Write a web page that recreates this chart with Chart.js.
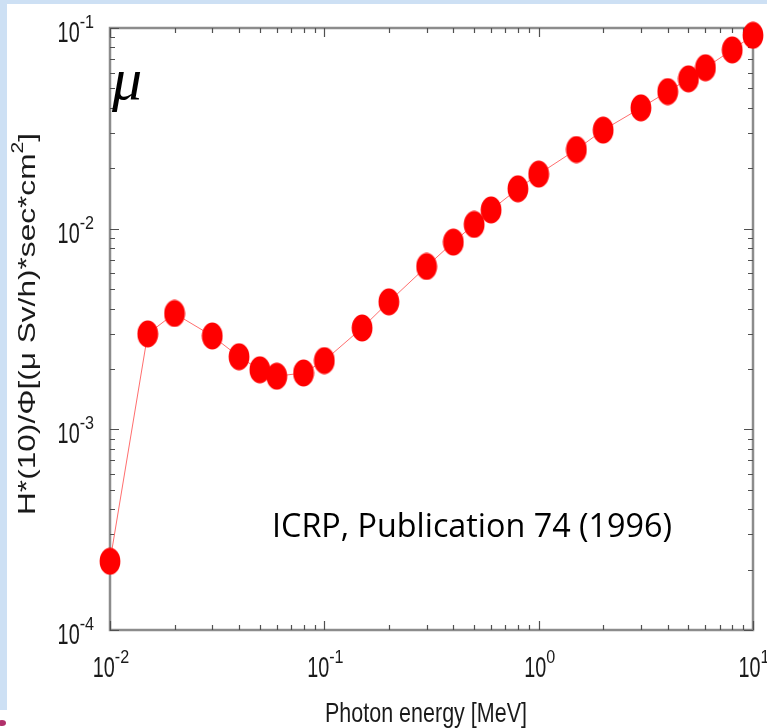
<!DOCTYPE html>
<html>
<head>
<meta charset="utf-8">
<script src="https://cdn.jsdelivr.net/npm/chart.js@4.4.1/dist/chart.umd.min.js"></script>
<style>
    html, body { margin: 0; padding: 0; background: #fff; }
    canvas { display: block; }
</style>
</head>
<body>
<canvas id="chart" width="767" height="728"></canvas>
<script>
// ICRP 74, H*(10)/Phi for photons
const energies = [0.01, 0.015, 0.02, 0.03, 0.04, 0.05, 0.06, 0.08, 0.1, 0.15, 0.2, 0.3, 0.4, 0.5, 0.6, 0.8, 1, 1.5, 2, 3, 4, 5, 6, 8, 10]
const doses = [2.2e-4, 2.99e-3, 3.78e-3, 2.92e-3, 2.3e-3, 1.98e-3, 1.84e-3, 1.91e-3, 2.2e-3, 3.2e-3, 4.32e-3, 6.48e-3, 8.57e-3, 1.05e-2, 1.24e-2, 1.58e-2, 1.87e-2, 2.48e-2, 3.1e-2, 4.0e-2, 4.82e-2, 5.58e-2, 6.34e-2, 7.78e-2, 9.2e-2]
const xExps = [-2, -1, 0, 1]
const yExps = [-4, -3, -2, -1]
const xTitle = 'Photon energy [MeV]'
const yTitle = ['H*(10)/\u03a6[(\u03bc Sv/h)*sec*cm', '2', ']']
const note = 'ICRP, Publication 74 (1996)'

const SANS = '"Liberation Sans", Arial, sans-serif'

// ellipse marker
const marker = document.createElement('canvas')
marker.width = 22
marker.height = 28
{
    const m = marker.getContext('2d')
    m.fillStyle = '#ff0000'
    m.beginPath()
    m.ellipse(11, 14, 10.4, 13.6, 0, 0, Math.PI * 2)
    m.fill()
}

const txt = (ctx, s, x, y, size, sx, family, style) => {
    ctx.save()
    ctx.font = `${style || ''} ${size}px ${family || SANS}`
    ctx.translate(x, y)
    ctx.scale(sx, 1)
    ctx.textAlign = 'left'
    ctx.textBaseline = 'alphabetic'
    ctx.fillText(s, 0, 0)
    ctx.restore()
}
const tw = (ctx, s, size, sx, family) => {
    ctx.font = `${size}px ${family || SANS}`
    return ctx.measureText(s).width * sx
}

// 10^n label
const sci = (ctx, exp, x, y, align) => {
    const sup = String(exp)
    const w1 = tw(ctx, '10', 30, 0.66)
    const w2 = tw(ctx, sup, 19, 0.85)
    const left = align === 'right' ? x - w1 - w2 : x - (w1 + w2) / 2
    txt(ctx, '10', left, y, 30, 0.66)
    txt(ctx, sup, left + w1, y - 14, 19, 0.85)
}

const frame = {
    id: 'frame',
    beforeDraw(chart) {
        const ctx = chart.ctx
        ctx.save()
        ctx.fillStyle = '#ffffff'
        ctx.fillRect(0, 0, chart.width, chart.height)
        ctx.fillStyle = '#cde0f4'
        ctx.fillRect(0, 0, chart.width, 4)
        ctx.fillRect(0, 0, 7, 710)
        ctx.fillStyle = '#b0306a'
        ctx.beginPath()
        ctx.ellipse(2, 723, 4, 3, 0, 0, Math.PI * 2)
        ctx.fill()
        ctx.restore()
    },
    beforeDatasetsDraw(chart) {
        const { ctx, chartArea: a, scales: { x, y } } = chart
        ctx.save()
        ctx.strokeStyle = '#8c8c8c'
        ctx.lineWidth = 2.5
        ctx.strokeRect(a.left, a.top, a.right - a.left, a.bottom - a.top)
        ctx.strokeStyle = '#505050'
        ctx.lineWidth = 1.2
        ctx.beginPath()
        for (let d = -2; d <= 1; d++) {
            for (let m = 1; m <= 9; m++) {
                if (d === 1 && m > 1) break
                const px = Math.round(x.getPixelForValue(m * Math.pow(10, d))) + 0.5
                const len = m === 1 ? 9 : 5
                ctx.moveTo(px, a.bottom); ctx.lineTo(px, a.bottom - len)
                ctx.moveTo(px, a.top); ctx.lineTo(px, a.top + len)
            }
        }
        for (let d = -4; d <= -1; d++) {
            for (let m = 1; m <= 9; m++) {
                if (d === -1 && m > 1) break
                const py = Math.round(y.getPixelForValue(m * Math.pow(10, d))) + 0.5
                const len = m === 1 ? 9 : 5
                ctx.moveTo(a.left, py); ctx.lineTo(a.left + len, py)
                ctx.moveTo(a.right, py); ctx.lineTo(a.right - len, py)
            }
        }
        ctx.stroke()
        ctx.restore()
    },
    afterDraw(chart) {
        const { ctx, chartArea: a, scales: { x, y } } = chart
        ctx.save()
        ctx.fillStyle = '#1a1a1a'
        xExps.forEach(e => sci(ctx, e, x.getPixelForValue(Math.pow(10, e)) + 1, a.bottom + 47, 'center'))
        yExps.forEach(e => sci(ctx, e, 94, y.getPixelForValue(Math.pow(10, e)) + 14, 'right'))

        // x title
        const xw = tw(ctx, xTitle, 28, 1)
        txt(ctx, xTitle, 325, 722, 28, 202 / xw)

        // y title, rotated
        const w0 = tw(ctx, yTitle[0], 24, 1)
        const w1 = tw(ctx, yTitle[1], 16, 1)
        const w2 = tw(ctx, yTitle[2], 24, 1)
        const k = 382 / (w0 + w1 + w2)
        ctx.save()
        ctx.translate(35, 515)
        ctx.rotate(-Math.PI / 2)
        txt(ctx, yTitle[0], 0, 0, 24, k)
        txt(ctx, yTitle[1], w0 * k, -12, 16, k)
        txt(ctx, yTitle[2], (w0 + w1) * k, 0, 24, k)
        ctx.restore()

        // note
        ctx.fillStyle = '#000000'
        const nw = tw(ctx, note, 33, 1, '"Open Sans", sans-serif')
        txt(ctx, note, 272, 537, 33, 400 / nw, '"Open Sans", sans-serif')

        // mu
        txt(ctx, '\u03bc', 112, 99, 60, 1, '"Liberation Serif", serif', 'italic')
        ctx.restore()
    }
}

new Chart(document.getElementById('chart'), {
    type: 'line',
    data: {
        labels: energies,
        datasets: [{
            data: energies.map((e, i) => ({ x: e, y: doses[i] })),
            borderColor: '#ff6e6e',
            borderWidth: 1,
            pointStyle: marker,
            pointRadius: 11,
            clip: false,
            tension: 0
        }]
    },
    options: {
        responsive: false,
        animation: false,
        events: [],
        layout: { padding: { left: 110, right: 14, top: 28, bottom: 98 } },
        plugins: { legend: { display: false }, tooltip: { enabled: false } },
        scales: {
            x: { type: 'logarithmic', min: 0.01, max: 10, display: false },
            y: { type: 'logarithmic', min: 1e-4, max: 0.1, display: false }
        }
    },
    plugins: [frame]
})
</script>
</body>
</html>
